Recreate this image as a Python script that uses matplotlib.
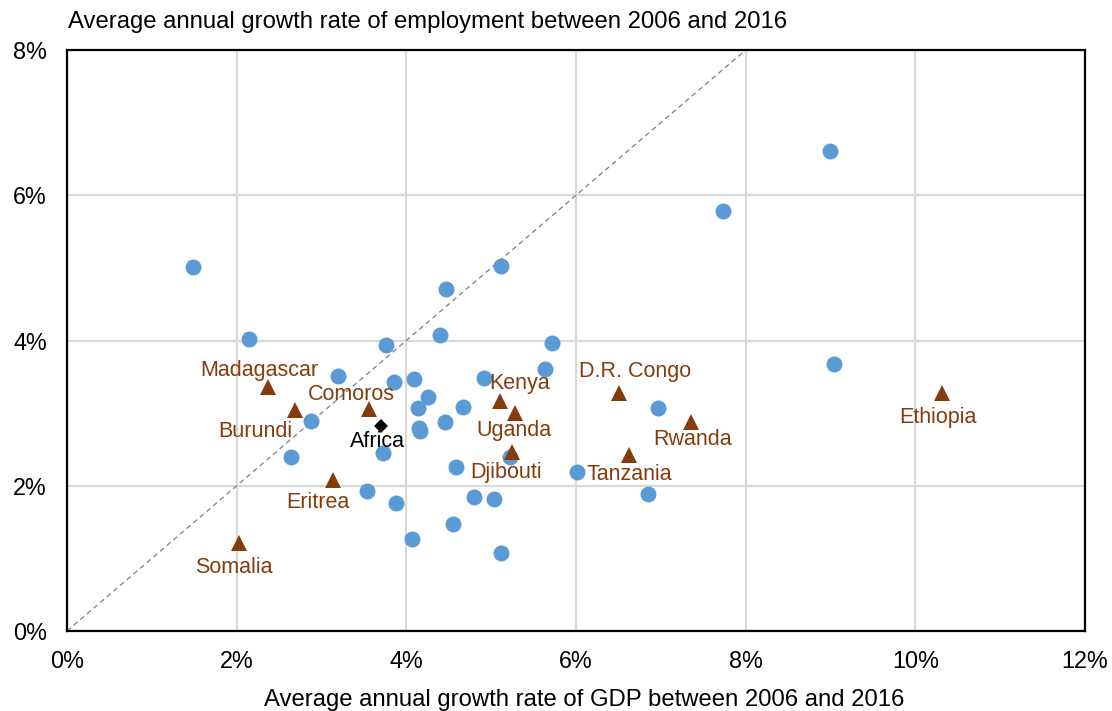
import matplotlib
matplotlib.use("Agg")
import matplotlib.pyplot as plt
from matplotlib.ticker import FuncFormatter

plt.rcParams["font.family"] = ["Liberation Sans", "DejaVu Sans"]

# Other African countries (GDP growth %, employment growth %)
other_gdp = [1.49, 2.15, 2.88, 2.64, 3.19, 3.76, 3.85, 3.72, 3.54, 3.88,
             4.07, 4.09, 4.14, 4.26, 4.15, 4.16, 4.46, 4.40, 4.47, 4.67,
             4.59, 4.55, 4.80, 5.03, 4.91, 5.12, 5.12, 5.22, 5.63, 5.72,
             6.01, 6.97, 6.85, 7.73, 8.99, 9.04]
other_emp = [5.01, 4.02, 2.89, 2.40, 3.51, 3.94, 3.43, 2.45, 1.93, 1.76,
             1.27, 3.47, 3.07, 3.22, 2.80, 2.75, 2.88, 4.08, 4.71, 3.09,
             2.26, 1.48, 1.84, 1.82, 3.49, 5.03, 1.07, 2.40, 3.61, 3.96,
             2.19, 3.07, 1.89, 5.78, 6.61, 3.67]

# East African countries
east_names = ["Madagascar", "Burundi", "Comoros", "Eritrea", "Somalia",
              "Kenya", "Uganda", "Djibouti", "D.R. Congo", "Tanzania",
              "Rwanda", "Ethiopia"]
east_gdp = [2.37, 2.69, 3.56, 3.14, 2.03, 5.11, 5.28, 5.25, 6.51, 6.63, 7.36, 10.31]
east_emp = [3.36, 3.04, 3.06, 2.08, 1.21, 3.17, 3.00, 2.46, 3.28, 2.42, 2.88, 3.28]

# Continental average
africa_gdp = 3.70
africa_emp = 2.82

x_ticks = [0, 2, 4, 6, 8, 10, 12]
y_ticks = [0, 2, 4, 6, 8]

# label placement (offset in pixels: dx right, dy up, to text baseline)
label_offsets = {
    "Madagascar": (-9, 11), "Burundi": (-40, -27), "Comoros": (-18, 9),
    "Eritrea": (-16, -28), "Somalia": (-5, -30), "Kenya": (19, 12),
    "Uganda": (-1, -23), "Djibouti": (-6, -26), "D.R. Congo": (16, 16),
    "Tanzania": (0, -25), "Rwanda": (1, -23), "Ethiopia": (-4, -30),
}

BLUE = "#5B9BD5"
BROWN = "#843C0C"
FS_LABEL = 15.5
FS_TICK = 16.8
FS_AXIS = 17.2

W, H = 1112, 711
fig = plt.figure(figsize=(W / 100, H / 100), dpi=100)
ax = fig.add_axes([67 / W, 1 - 631 / H, (1085 - 67) / W, (631 - 50) / H])

ax.set_xlim(0, 12)
ax.set_ylim(0, 8)
ax.set_xticks(x_ticks)
ax.set_yticks(y_ticks)
pct = FuncFormatter(lambda v, _: f"{v:.0f}%")
ax.xaxis.set_major_formatter(pct)
ax.yaxis.set_major_formatter(pct)
ax.tick_params(axis="both", length=0, labelsize=FS_TICK, colors="black")
ax.tick_params(axis="x", pad=13.5)
ax.tick_params(axis="y", pad=14.5)

ax.grid(True, color="#D9D9D9", linewidth=1.6, zorder=0)
ax.set_axisbelow(True)
for s in ax.spines.values():
    s.set_color("black")
    s.set_linewidth(1.6)

# 45-degree reference line
ax.plot([0, 8], [0, 8], linestyle=(0, (4, 3)), color="#7F7F7F", linewidth=0.9, zorder=1)

ax.plot(other_gdp, other_emp, "o", color=BLUE, markersize=11.5, markeredgewidth=0, zorder=3)
ax.plot(east_gdp, east_emp, "^", color=BROWN, markersize=11, markeredgewidth=0, zorder=4)
ax.plot([africa_gdp], [africa_emp], "D", color="black", markersize=7.5, markeredgewidth=0, zorder=5)

for name, gx, gy in zip(east_names, east_gdp, east_emp):
    dx, dy = label_offsets[name]
    ax.annotate(name, (gx, gy), xytext=(dx, dy), textcoords="offset pixels",
                ha="center", va="baseline", fontsize=FS_LABEL, color=BROWN, zorder=6)
ax.annotate("Africa", (africa_gdp, africa_emp), xytext=(-3, -21),
            textcoords="offset pixels", ha="center", va="baseline",
            fontsize=FS_LABEL, color="black", zorder=6)

fig.text(68 / W, 1 - 28 / H, "Average annual growth rate of employment between 2006 and 2016",
         ha="left", va="baseline", fontsize=FS_AXIS)
fig.text(584 / W, 1 - 706 / H, "Average annual growth rate of GDP between 2006 and 2016",
         ha="center", va="baseline", fontsize=FS_AXIS)

fig.savefig("out.png", dpi=100, facecolor="white")
